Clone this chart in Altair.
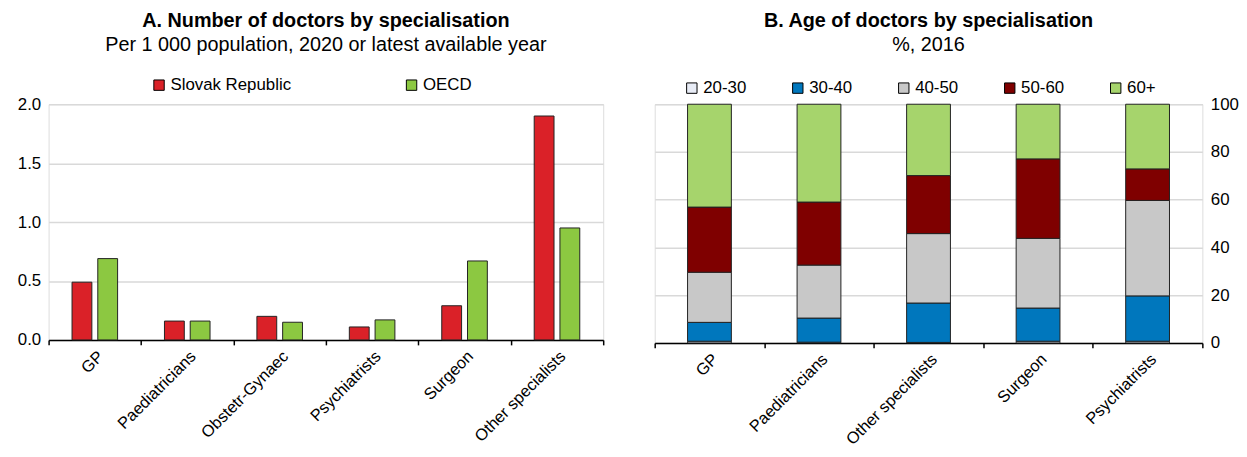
import altair as alt
import pandas as pd

FONT = "Liberation Sans, Arial, sans-serif"

# Panel A data
cats_a = ["GP", "Paediatricians", "Obstetr-Gynaec", "Psychiatrists", "Surgeon", "Other specialists"]
series_a = ["Slovak Republic", "OECD"]
slovak = [0.49, 0.16, 0.20, 0.11, 0.29, 1.90]
oecd = [0.69, 0.16, 0.15, 0.17, 0.67, 0.95]
colors_a = ["#da2128", "#8cc841"]

# Panel B data
cats_b = ["GP", "Paediatricians", "Other specialists", "Surgeon", "Psychiatrists"]
age_groups = ["20-30", "30-40", "40-50", "50-60", "60+"]
a20 = [0.7, 0.3, 0.2, 0.7, 0.7]
a30 = [7.9, 10.1, 16.5, 13.9, 19.0]
a40 = [21.0, 22.2, 29.1, 29.2, 40.0]
a50 = [27.3, 26.4, 24.3, 33.3, 13.2]
a60 = [43.1, 41.0, 29.9, 22.9, 27.1]
colors_b = ["#e8ecf6", "#0077bd", "#c8c8c8", "#7f0000", "#a6d46c"]

rows_a = []
for i, c in enumerate(cats_a):
    rows_a.append({"cat": c, "series": series_a[0], "value": slovak[i]})
    rows_a.append({"cat": c, "series": series_a[1], "value": oecd[i]})
dfa = pd.DataFrame(rows_a)

rows_b = []
for i, c in enumerate(cats_b):
    for j, (g, vals) in enumerate(zip(age_groups, [a20, a30, a40, a50, a60])):
        rows_b.append({"cat": c, "age": g, "ord": j, "value": vals[i]})
dfb = pd.DataFrame(rows_b)

xaxis_common = dict(
    title=None, labelAngle=315, tickBand="extent", grid=False,
    domainColor="black", domainWidth=1.5, tickColor="black", tickWidth=1.5,
    tickSize=5, labelFontSize=16.5, labelPadding=3, labelColor="black", labelFont=FONT,
)

yaxis_common = dict(
    title=None, ticks=False, domain=False, gridColor="#d9d9d9", gridWidth=1.5,
    labelFontSize=17, labelPadding=8, labelColor="black", labelFont=FONT,
)

title_common = dict(
    fontSize=20, fontWeight="bold", font=FONT, color="black",
    subtitleFontSize=20, subtitleFont=FONT, subtitleColor="black",
    anchor="middle", subtitlePadding=4,
)

legend_common = dict(
    orient="none", direction="horizontal", title=None,
    symbolType="square", symbolSize=110,
    symbolStrokeColor="black", symbolStrokeWidth=1,
    labelFontSize=17, labelFont=FONT, labelColor="black", labelOffset=3,
)

chart_a = alt.Chart(dfa).mark_bar(stroke="#222222", strokeWidth=1).encode(
    x=alt.X("cat:N", sort=cats_a, scale=alt.Scale(paddingInner=0, paddingOuter=0),
            axis=alt.Axis(**xaxis_common)),
    xOffset=alt.XOffset("series:N", sort=series_a,
                        scale=alt.Scale(paddingInner=0.23, paddingOuter=0.91)),
    y=alt.Y("value:Q", scale=alt.Scale(domain=[0, 2]),
            axis=alt.Axis(values=[0, 0.5, 1, 1.5, 2], format=".1f", **yaxis_common)),
    color=alt.Color("series:N", sort=series_a,
                    scale=alt.Scale(domain=series_a, range=colors_a),
                    legend=alt.Legend(legendX=103, legendY=-28, columnPadding=113,
                                      **legend_common)),
).properties(
    width=560, height=238,
    title=alt.TitleParams(
        text="A. Number of doctors by specialisation",
        subtitle="Per 1 000 population, 2020 or latest available year",
        offset=22, **title_common,
    ),
)

chart_b = alt.Chart(dfb).mark_bar(stroke="#222222", strokeWidth=1,
                                  width=alt.RelativeBandSize(0.4)).encode(
    x=alt.X("cat:N", sort=cats_b, scale=alt.Scale(paddingInner=0, paddingOuter=0),
            axis=alt.Axis(**xaxis_common)),
    y=alt.Y("value:Q", stack="zero", scale=alt.Scale(domain=[0, 100]),
            axis=alt.Axis(orient="right", values=[0, 20, 40, 60, 80, 100], **yaxis_common)),
    color=alt.Color("age:N", sort=age_groups,
                    scale=alt.Scale(domain=age_groups, range=colors_b),
                    legend=alt.Legend(legendX=29, legendY=-25, gridAlign="all",
                                      columnPadding=43, **legend_common)),
    order=alt.Order("ord:Q", sort="ascending"),
).properties(
    width=553, height=241,
    title=alt.TitleParams(
        text="B. Age of doctors by specialisation",
        subtitle="%, 2016",
        offset=25, **title_common,
    ),
)

chart = alt.hconcat(chart_a, chart_b, spacing=48).resolve_scale(
    color="independent", x="independent", y="independent"
).configure_view(stroke=None).configure(
    font=FONT, padding={"left": 8, "top": 0, "right": 0, "bottom": 0}
)

chart.save("out.html", embed_options={"renderer": "svg", "actions": False})
